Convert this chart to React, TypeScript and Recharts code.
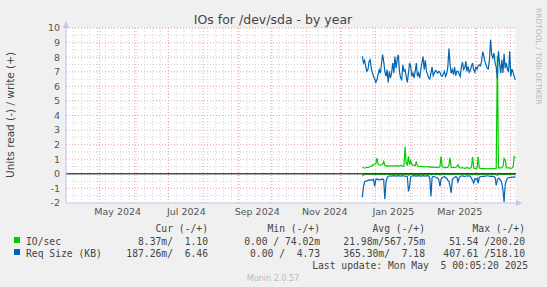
import React from "react";
import { LineChart, Line, XAxis, YAxis, ReferenceLine } from "recharts";

// ---- data (daily, starting 2024-12-19; day = days after 2024-04-01) ----
const START_DAY = 263.4;

const reqWrite = [
  8.05, 7.6, 7.78, 7.37, 7.03, 7.14, 7.71, 7.83, 7.19, 6.91, 6.68, 6.5, 6.27, 6.45, 6.8, 7.14, 6.91, 7.48, 8.17, 7.71,
  7.03, 6.68, 7.14, 6.27, 7.03, 6.57, 6.91, 7.6, 6.91, 8.05, 7.25, 7.83, 8.17, 7.03, 6.57, 6.45, 7.48, 7.03, 7.14, 6.68,
  6.27, 6.91, 7.6, 7.37, 6.68, 6.91, 6.57, 7.03, 7.6, 6.68, 6.91, 6.57, 7.14, 7.6, 8.05, 7.14, 7.78, 7.03, 6.8, 6.57,
  6.5, 6.91, 7.32, 6.73, 6.91, 7.09, 7.03, 6.91, 7.03, 6.96, 6.73, 6.68, 6.86, 7.03, 6.68, 6.86, 7.32, 8.6, 7.48, 6.91,
  7.14, 6.8, 7.32, 6.73, 7.03, 7.03, 6.86, 6.68, 7.32, 7.66, 7.14, 7.25, 7.71, 7.03, 7.37, 6.96, 7.09, 7.37, 7.6, 7.14,
  6.96, 7.32, 7.19, 7.41, 7.48, 7.41, 7.71, 8.37, 8.1, 7.71, 7.48, 7.25, 7.19, 7.83, 9.2, 8.17, 7.94, 8.28, 7.6, 7.32,
  6.5, 8.4, 7.6, 6.9, 7.83, 6.91, 8.24, 7.25, 7.6, 7.14, 7.03, 8.4, 6.68, 7.19, 6.96, 6.68, 6.45,
];

const ioWrite = [
  0.45, 0.42, 0.4, 0.42, 0.45, 0.43, 0.47, 0.5, 0.52, 0.58, 0.62, 0.66, 0.7, 1.08, 0.66, 0.62, 0.6, 0.62, 0.65, 0.85,
  0.58, 0.55, 0.55, 0.52, 0.55, 0.55, 0.53, 0.55, 0.52, 0.55, 0.57, 0.55, 0.53, 0.55, 0.58, 0.55, 0.52, 0.55, 1.85, 0.7,
  0.6, 1.2, 0.62, 0.9, 0.62, 0.6, 0.58, 0.55, 0.85, 0.55, 0.52, 0.5, 0.52, 0.5, 0.48, 0.5, 0.48, 0.47, 0.5, 0.48,
  0.46, 0.47, 0.45, 0.47, 0.45, 0.44, 0.45, 0.43, 0.45, 0.5, 1.2, 0.5, 0.45, 0.42, 0.44, 0.42, 0.45, 0.6, 1.1, 0.44,
  0.42, 0.45, 0.43, 0.45, 0.5, 0.62, 0.45, 0.42, 0.4, 0.43, 0.4, 0.38, 0.4, 0.42, 0.4, 0.38, 0.4, 0.45, 1.15, 0.4,
  0.38, 0.37, 0.4, 1.17, 0.4, 0.37, 0.36, 0.37, 0.36, 0.35, 0.36, 0.35, 0.36, 0.35, 0.36, 0.35, 0.36, 0.35, 0.36, 0.36,
  8.1, 0.4, 0.42, 0.4, 0.42, 0.5, 1.05, 0.96, 0.42, 0.4, 0.42, 0.4, 0.38, 0.4, 0.45, 1.17, 1.1,
];

const reqRead = [
  -1.6, -0.9, -0.55, -0.5, -0.48, -0.45, -0.42, -0.45, -0.4, -0.42, -0.38, -0.87, -0.4, -0.35, -0.38, -0.42, -0.4, -0.38, -0.35, -0.4,
  -1.74, -0.6, -0.25, -0.18, -0.15, -0.14, -0.15, -0.14, -0.13, -0.14, -0.15, -0.14, -0.13, -0.14, -0.15, -0.14, -0.13, -0.15, -0.18, -0.15,
  -0.2, -1.2, -0.85, -0.2, -0.15, -0.14, -0.13, -0.14, -0.15, -0.14, -0.13, -0.14, -0.15, -0.14, -0.13, -0.14, -0.15, -0.14, -0.13, -0.15,
  -0.3, -1.55, -0.25, -0.18, -0.2, -0.22, -0.25, -0.3, -0.4, -0.87, -0.35, -0.25, -0.22, -0.2, -0.25, -0.3, -0.45, -0.5, -0.9, -1.3,
  -0.4, -0.3, -0.25, -0.2, -0.22, -0.55, -0.3, -0.18, -0.15, -0.14, -0.16, -0.18, -0.15, -0.14, -0.15, -0.14, -0.15, -0.3, -0.45, -0.65,
  -0.35, -0.4, -0.3, -0.65, -0.25, -0.2, -0.18, -0.17, -0.18, -0.16, -0.15, -0.14, -0.15, -0.16, -0.18, -0.17, -0.16, -0.2, -0.25, -0.8,
  -0.4, -0.3, -0.35, -0.45, -0.6, -1.1, -1.95, -0.75, -0.45, -0.3, -0.27, -0.25, -0.24, -0.23, -0.22, -0.22, -0.19,
];

const ioRead = [
  -0.15, -0.05, -0.02, -0.02, -0.02, -0.02, -0.02, -0.02, -0.02, -0.02, -0.02, -0.03, -0.02, -0.02, -0.02, -0.02, -0.02, -0.02, -0.02, -0.02,
  -0.04, -0.02, -0.02, -0.02, -0.02, -0.02, -0.02, -0.02, -0.02, -0.02, -0.02, -0.02, -0.02, -0.02, -0.02, -0.02, -0.02, -0.02, -0.03, -0.02,
  -0.02, -0.1, -0.03, -0.02, -0.02, -0.02, -0.02, -0.02, -0.06, -0.02, -0.02, -0.02, -0.02, -0.02, -0.02, -0.02, -0.02, -0.02, -0.02, -0.02,
  -0.02, -0.06, -0.02, -0.02, -0.02, -0.02, -0.02, -0.02, -0.02, -0.08, -0.03, -0.02, -0.02, -0.02, -0.02, -0.02, -0.02, -0.02, -0.06, -0.03,
  -0.02, -0.02, -0.02, -0.02, -0.02, -0.02, -0.02, -0.02, -0.02, -0.02, -0.02, -0.02, -0.02, -0.02, -0.02, -0.02, -0.02, -0.02, -0.06, -0.02,
  -0.02, -0.02, -0.02, -0.06, -0.02, -0.02, -0.02, -0.02, -0.02, -0.02, -0.02, -0.02, -0.02, -0.02, -0.02, -0.02, -0.02, -0.02, -0.02, -0.08,
  -0.1, -0.02, -0.02, -0.02, -0.02, -0.02, -0.05, -0.02, -0.02, -0.02, -0.02, -0.02, -0.02, -0.02, -0.02, -0.02, -0.02,
];

// month starts (days after 2024-04-01) and labels
const monthStartDays = [30, 61, 91, 122, 153, 183, 214, 244, 275, 306, 334, 365, 395];
const monthLabels = ["May 2024", "Jul 2024", "Sep 2024", "Nov 2024", "Jan 2025", "Mar 2025"];
const monthLabelDays = [46, 107, 170, 230, 291, 350];
const yTicks = [-2, -1, 0, 1, 2, 3, 4, 5, 6, 7, 8, 9, 10];
const yMinor = [-1.5, -0.5, 0.5, 1.5, 2.5, 3.5, 4.5, 5.5, 6.5, 7.5, 8.5, 9.5];
const weekDays: number[] = [];
for (let d = 0; d <= 399; d += 7) weekDays.push(d);

const legendHeader = ["Cur (-/+)", "Min (-/+)", "Avg (-/+)", "Max (-/+)"];
const ioLegend = ["8.37m/  1.10", "0.00 / 74.02m", "21.98m/567.75m", "51.54 /200.20"];
const reqLegend = ["187.26m/  6.46", "0.00 /  4.73", "365.30m/  7.18", "407.61 /518.10"];

const data = reqWrite.map((v, i) => ({
  day: START_DAY + i,
  reqW: v,
  ioW: ioWrite[i],
  reqR: reqRead[i],
  ioR: ioRead[i],
}));

const GREEN = "#00cc00";
const BLUE = "#0066b3";
const AXIS = "#c4c4ee";
const MAJOR = "#e9a3a3";
const MINOR = "#d6d6d6";
const SANS = "DejaVu Sans, sans-serif";
const MONO = "DejaVu Sans Mono, monospace";
const MONO_SIZE = 9.7;

const labelFor = (d: number) => {
  const idx = monthLabelDays.indexOf(d);
  return idx >= 0 ? monthLabels[idx] : "";
};

const colEnds = [208, 320, 425, 525];

export default function App() {
  return (
    <div style={{ position: "relative", width: 547, height: 287, background: "#f0f0f0", overflow: "hidden" }}>
      <style>{`body{margin:0;background:#f0f0f0}`}</style>
      <div style={{ position: "absolute", left: 66, top: 28, width: 450, height: 175, background: "#ffffff" }} />
      <div style={{ position: "absolute", left: 0, top: 0 }}>
        <LineChart width={547} height={287} data={data} margin={{ top: 28, right: 31, bottom: 64, left: 0 }}>
          <XAxis
            type="number"
            dataKey="day"
            domain={[0, 400]}
            ticks={monthLabelDays}
            tickFormatter={labelFor}
            interval={0}
            tickLine={false}
            axisLine={{ stroke: AXIS }}
            tickSize={0}
            tickMargin={5}
            height={20}
            tick={{ fontSize: 9.5, fill: "#555", fontFamily: SANS }}
            allowDataOverflow
          />
          <YAxis
            type="number"
            domain={[-2, 10]}
            ticks={yTicks}
            interval={0}
            width={66}
            tickLine={false}
            axisLine={{ stroke: AXIS }}
            tickSize={0}
            tickMargin={6}
            tick={{ fontSize: 9.5, fill: "#555", fontFamily: SANS }}
            allowDataOverflow
          />
          {weekDays.map((d) => (
            <ReferenceLine key={"w" + d} x={d} stroke={MINOR} strokeDasharray="1 2" ifOverflow="hidden" />
          ))}
          {yMinor.map((v) => (
            <ReferenceLine key={"ym" + v} y={v} stroke={MINOR} strokeDasharray="1 2" />
          ))}
          {monthStartDays.map((d) => (
            <ReferenceLine key={"m" + d} x={d} stroke={MAJOR} strokeDasharray="1 2" />
          ))}
          {yTicks.filter((v) => v !== -2).map((v) => (
            <ReferenceLine key={"y" + v} y={v} stroke={MAJOR} strokeDasharray="1 2" />
          ))}
          <Line type="linear" dataKey="ioR" stroke={GREEN} strokeWidth={1.2} dot={false} isAnimationActive={false} />
          <Line type="linear" dataKey="ioW" stroke={GREEN} strokeWidth={1.2} dot={false} isAnimationActive={false} />
          <Line type="linear" dataKey="reqR" stroke={BLUE} strokeWidth={1.2} dot={false} isAnimationActive={false} />
          <Line type="linear" dataKey="reqW" stroke={BLUE} strokeWidth={1.2} dot={false} isAnimationActive={false} />
          <ReferenceLine y={0} stroke="#000000" strokeWidth={1} />
        </LineChart>
      </div>
      <svg width={547} height={287} style={{ position: "absolute", left: 0, top: 0, pointerEvents: "none" }}>
        <text x={273} y={24} textAnchor="middle" fontFamily={SANS} fontSize={12.5} fill="#444">
          IOs for /dev/sda - by year
        </text>
        <text
          x={0}
          y={0}
          transform="translate(536,8) rotate(90)"
          fontFamily={SANS}
          fontSize={7.5}
          fill="#b8b8b8"
        >
          RRDTOOL / TOBI OETIKER
        </text>
        <text
          x={0}
          y={0}
          transform="translate(14,115) rotate(-90)"
          textAnchor="middle"
          fontFamily={SANS}
          fontSize={10.5}
          fill="#444"
        >
          Units read (-) / write (+)
        </text>
        <polygon points="63,28 66,21 69,28" fill={AXIS} />
        <polygon points="516,200 522,203 516,206" fill={AXIS} />
        {legendHeader.map((t, i) => (
          <text key={t} x={colEnds[i]} y={232} textAnchor="end" fontFamily={MONO} fontSize={MONO_SIZE} fill="#444" style={{ whiteSpace: "pre" }}>
            {t}
          </text>
        ))}
        <rect x={14} y={237} width={6} height={6} fill={GREEN} />
        <text x={26} y={244.5} fontFamily={MONO} fontSize={MONO_SIZE} fill="#444">IO/sec</text>
        {ioLegend.map((t, i) => (
          <text key={"io" + i} x={colEnds[i]} y={244.5} textAnchor="end" fontFamily={MONO} fontSize={MONO_SIZE} fill="#444" xmlSpace="preserve" style={{ whiteSpace: "pre" }}>
            {t}
          </text>
        ))}
        <rect x={14} y={249} width={6} height={6} fill={BLUE} />
        <text x={26} y={256.5} fontFamily={MONO} fontSize={MONO_SIZE} fill="#444">Req Size (KB)</text>
        {reqLegend.map((t, i) => (
          <text key={"rq" + i} x={colEnds[i]} y={256.5} textAnchor="end" fontFamily={MONO} fontSize={MONO_SIZE} fill="#444" xmlSpace="preserve" style={{ whiteSpace: "pre" }}>
            {t}
          </text>
        ))}
        <text x={528} y={268.5} textAnchor="end" fontFamily={MONO} fontSize={MONO_SIZE} fill="#444" xmlSpace="preserve" style={{ whiteSpace: "pre" }}>
          {"Last update: Mon May  5 00:05:20 2025"}
        </text>
        <text x={273} y={281} textAnchor="middle" fontFamily={SANS} fontSize={8} fill="#bbbbbb">
          Munin 2.0.57
        </text>
      </svg>
    </div>
  );
}
